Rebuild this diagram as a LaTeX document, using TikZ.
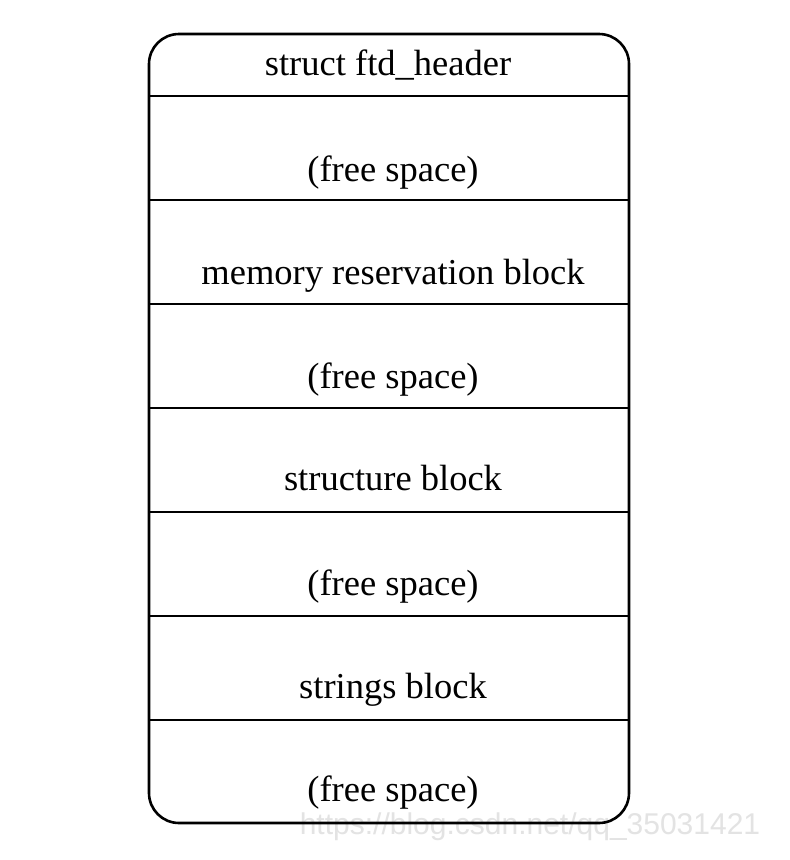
\documentclass[tikz,border=0pt]{standalone}
\usepackage{fontspec}
\setmainfont{Liberation Serif}
\newfontfamily\wmfont{Liberation Sans}
\begin{document}
\begin{tikzpicture}[x=1pt,y=-1pt,
  boxline/.style={line width=2.6pt, draw=black},
  celltext/.style={anchor=base, inner sep=0pt, font=\fontsize{36.5}{40}\selectfont},
  watermark/.style={anchor=base, inner sep=0pt, text=black!11, font=\wmfont\fontsize{30}{34}\selectfont}]
\useasboundingbox (0,0) rectangle (790,860);
\fill[white] (0,0) rectangle (790,860);
% watermark
\node[watermark] (wm) at (530,834) {https://blog.csdn.net/qq\_35031421};
% outer rounded box
\draw[boxline, rounded corners=30pt] (149,34) rectangle (629,823);
% separators
\foreach \yy/\nm in {96/s1,200/s2,304/s3,408/s4,512/s5,616/s6,720/s7}{
  \coordinate (\nm L) at (149,\yy);
  \coordinate (\nm R) at (629,\yy);
  \draw[boxline] (\nm L) -- (\nm R);
}
% texts
\node[celltext] (t0) at (388,75) {struct ftd\_header};
\node[celltext] (t1) at (393,181) {(free space)};
\node[celltext] (t2) at (393,284) {memory reservation block};
\node[celltext] (t3) at (393,388) {(free space)};
\node[celltext] (t4) at (393,490) {structure block};
\node[celltext] (t5) at (393,595) {(free space)};
\node[celltext] (t6) at (393,698) {strings block};
\node[celltext] (t7) at (393,801) {(free space)};
\end{tikzpicture}
\end{document}
